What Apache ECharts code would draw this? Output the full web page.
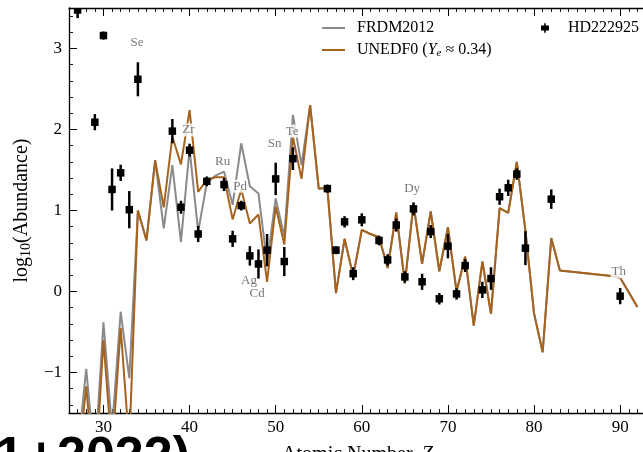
<!DOCTYPE html>
<html>
<head>
<meta charset="utf-8">
<script src="https://cdn.jsdelivr.net/npm/echarts@6/dist/echarts.min.js"></script>
<style>
  html, body { margin: 0; padding: 0; background: #fff; }
  #chart { width: 643px; height: 452px; }
</style>
</head>
<body>
<div id="chart"></div>
<script>
// Model predictions: log10 abundance per atomic number
const modelZ = [27, 28, 29, 30, 31, 32, 33, 34, 35, 36, 37, 38, 39, 40, 41, 42, 43, 44, 45, 46,
  47, 48, 49, 50, 51, 52, 53, 54, 55, 56, 57, 58, 59, 60, 61, 62, 63, 64, 65, 66,
  67, 68, 69, 70, 71, 72, 73, 74, 75, 76, 77, 78, 79, 80, 81, 82, 83, 89, 90, 91, 92];

const frdm2012 = [-2.0, -0.955, -2.1, -0.38, -1.7, -0.25, -1.07, 1.0, 0.63, 1.62, 0.78, 1.56, 0.61, 1.76, 0.74, 1.34, 1.43, 1.48, 1.07, 1.83,
  1.30, 1.21, 0.35, 1.15, 0.68, 2.18, 1.56, 2.30, 1.27, 1.28, -0.02, 0.65, 0.19, 0.76, 0.71, 0.67, 0.29, 0.975, 0.10, 1.08,
  0.34, 0.99, 0.25, 0.795, 0.0, 0.43, -0.42, 0.37, -0.275, 1.03, 0.97, 1.60, 0.75, -0.27, -0.75, 0.66, 0.26, 0.19, 0.17, -0.01, -0.19];

const unedf0 = [-2.2, -1.17, -2.4, -0.6, -2.0, -0.45, -1.9, 1.0, 0.63, 1.62, 1.04, 1.91, 1.57, 2.24, 1.23, 1.38, 1.41, 1.41, 0.89, 1.26,
  0.84, 0.95, 0.12, 1.05, 0.58, 1.91, 1.39, 2.30, 1.27, 1.28, -0.02, 0.65, 0.19, 0.76, 0.71, 0.67, 0.29, 0.975, 0.10, 1.08,
  0.34, 0.99, 0.25, 0.795, 0.0, 0.43, -0.42, 0.37, -0.275, 1.03, 0.97, 1.60, 0.75, -0.27, -0.75, 0.66, 0.26, 0.19, 0.17, -0.01, -0.19];

// Observed abundances of HD222925 with 1-sigma uncertainties
const starZ = [27, 29, 30, 31, 32, 33, 34, 38, 39, 40, 41, 42, 44, 45, 46, 47, 48, 49, 50, 51, 52,
  56, 57, 58, 59, 60, 62, 63, 64, 65, 66, 67, 68, 69, 70, 71, 72, 74, 75, 76, 77, 78, 79, 82, 90];
const starLogAbund = [3.475, 2.09, 3.16, 1.26, 1.465, 1.01, 2.62, 1.98, 1.04, 1.745, 0.71, 1.36, 1.32, 0.65, 1.06, 0.44, 0.34, 0.51, 1.39, 0.37, 1.64,
  1.27, 0.51, 0.86, 0.22, 0.885, 0.63, 0.39, 0.82, 0.18, 1.02, 0.12, 0.74, -0.09, 0.56, -0.03, 0.32, 0.02, 0.16, 1.17, 1.28, 1.45, 0.535, 1.14, -0.057];
const starErr = [0.1, 0.1, 0.05, 0.26, 0.1, 0.23, 0.21, 0.15, 0.08, 0.08, 0.1, 0.06, 0.08, 0.1, 0.06, 0.12, 0.18, 0.2, 0.2, 0.18, 0.14,
  0.05, 0.05, 0.07, 0.08, 0.08, 0.06, 0.07, 0.08, 0.07, 0.08, 0.1, 0.08, 0.07, 0.15, 0.07, 0.08, 0.1, 0.14, 0.1, 0.1, 0.07, 0.21, 0.12, 0.1];

// Element annotations (data coordinates)
const elemNames = ['Se', 'Zr', 'Ru', 'Pd', 'Ag', 'Cd', 'Sn', 'Te', 'Dy', 'Th'];
const elemLabelZ = [33.9, 39.86, 43.83, 45.86, 46.9, 47.84, 49.87, 51.9, 65.84, 89.84];
const elemLabelY = [3.077, 1.995, 1.61, 1.30, 0.13, -0.03, 1.83, 1.98, 1.27, 0.243];

const SERIF = '"Liberation Serif", "DejaVu Serif", serif';
const GRAY = '#8a8a8a';
const ORANGE = '#a6631d';
const BIG_FONT = 'bold 52px "Liberation Sans", Arial, sans-serif';

const zip = (xs, ys) => xs.map((x, i) => [x, ys[i]]);

const chart = echarts.init(document.getElementById('chart'), null, { renderer: 'canvas' });

const tickCommon = {
  axisLine: { show: true, onZero: false, lineStyle: { color: '#000', width: 1.3 } },
  axisTick: { show: true, inside: true, length: 8, lineStyle: { color: '#000', width: 1 } },
  minorTick: { show: true, length: 4, lineStyle: { color: '#000', width: 0.9 } },
  splitLine: { show: false },
  minorSplitLine: { show: false }
};

chart.setOption({
  animation: false,
  backgroundColor: '#fff',
  grid: { left: 69, top: 8, width: 577, height: 405, containLabel: false, outerBoundsMode: 'none' },
  xAxis: [
    Object.assign({}, tickCommon, {
      type: 'value', min: 26, max: 93, splitNumber: 7, position: 'bottom',
      minorTick: Object.assign({}, tickCommon.minorTick, { splitNumber: 10 }),
      axisLabel: { show: true, showMinLabel: false, showMaxLabel: false, margin: 6,
        fontFamily: SERIF, fontSize: 17, color: '#000' },
      name: 'Atomic Number, {i|Z}', nameLocation: 'middle', nameGap: 32,
      nameTextStyle: { fontFamily: SERIF, fontSize: 20, color: '#000',
        rich: { i: { fontStyle: 'italic', fontFamily: SERIF, fontSize: 20, color: '#000' } } }
    }),
    Object.assign({}, tickCommon, {
      type: 'value', min: 26, max: 93, splitNumber: 7, position: 'top',
      minorTick: Object.assign({}, tickCommon.minorTick, { splitNumber: 10 }),
      axisLabel: { show: false }
    })
  ],
  yAxis: [
    Object.assign({}, tickCommon, {
      type: 'value', min: -1.5, max: 3.5, splitNumber: 5, position: 'left',
      minorTick: Object.assign({}, tickCommon.minorTick, { splitNumber: 5 }),
      axisLabel: { show: true, showMinLabel: false, showMaxLabel: false, margin: 7,
        fontFamily: SERIF, fontSize: 17, color: '#000',
        formatter: v => (v < 0 ? '\u2212' + Math.abs(v) : String(v)) },
      name: 'log{sub|10}(Abundance)', nameLocation: 'middle', nameRotate: 90, nameGap: 30,
      nameTextStyle: { fontFamily: SERIF, fontSize: 20, color: '#000',
        rich: { sub: { fontFamily: SERIF, fontSize: 14, color: '#000', verticalAlign: 'bottom', padding: [8, 0, 0, 0] } } }
    })
  ],
  legend: [
    {
      data: [{ name: 'FRDM2012', icon: 'rect' }, { name: 'UNEDF0', icon: 'rect' }],
      orient: 'vertical', left: 322, top: 19, padding: 0, itemWidth: 23, itemHeight: 2, itemGap: 4,
      selectedMode: false,
      formatter: name => (name === 'UNEDF0' ? 'UNEDF0 ({i|Y}{s|e} \u2248 0.34)' : name),
      textStyle: { fontFamily: SERIF, fontSize: 16, color: '#000', lineHeight: 18, padding: [0, 0, 0, 7],
        rich: {
          i: { fontFamily: SERIF, fontSize: 16, fontStyle: 'italic', color: '#000' },
          s: { fontFamily: SERIF, fontSize: 11, fontStyle: 'italic', color: '#000', padding: [6, 0, 0, 0] }
        } }
    },
    {
      data: [{ name: 'HD222925', icon: 'path://M4,0 L6,0 L6,3 L10,3 L10,9 L6,9 L6,12 L4,12 L4,9 L0,9 L0,3 L4,3 Z' }],
      orient: 'vertical', left: 541, top: 19, padding: 0, itemWidth: 8, itemHeight: 13,
      selectedMode: false,
      textStyle: { fontFamily: SERIF, fontSize: 16, color: '#000', lineHeight: 18, padding: [0, 0, 0, 14] }
    }
  ],
  series: [
    {
      name: 'FRDM2012', type: 'line', data: zip(modelZ, frdm2012),
      showSymbol: false, symbol: 'none', clip: true, z: 2,
      itemStyle: { color: GRAY },
      lineStyle: { color: GRAY, width: 2 }
    },
    {
      name: 'UNEDF0', type: 'line', data: zip(modelZ, unedf0),
      showSymbol: false, symbol: 'none', clip: true, z: 3,
      itemStyle: { color: ORANGE },
      lineStyle: { color: ORANGE, width: 2 }
    },
    {
      name: 'elements', type: 'scatter', z: 4, silent: true,
      data: elemNames.map((n, i) => ({ name: n, value: [elemLabelZ[i], elemLabelY[i]] })),
      symbolSize: 0,
      label: { show: true, position: 'inside', formatter: '{b}', fontFamily: SERIF, fontSize: 13,
        color: '#555', backgroundColor: '#fff', padding: [0, 1] }
    },
    {
      name: 'HD222925', type: 'custom', z: 5, clip: true,
      itemStyle: { color: '#000' },
      encode: { x: 0, y: 1 },
      data: starZ.map((z, i) => [z, starLogAbund[i], starErr[i]]),
      renderItem: function (params, api) {
        const z = api.value(0), v = api.value(1), e = api.value(2);
        const c = api.coord([z, v]);
        const hi = api.coord([z, v + e]);
        const lo = api.coord([z, v - e]);
        const s = 7.5;
        return {
          type: 'group',
          children: [
            { type: 'line', shape: { x1: c[0], y1: hi[1], x2: c[0], y2: lo[1] },
              style: { stroke: '#000', lineWidth: 2.5 } },
            { type: 'rect', shape: { x: c[0] - s / 2, y: c[1] - s / 2, width: s, height: s },
              style: { fill: '#000' } }
          ]
        };
      }
    }
  ],
  graphic: [
    { type: 'text', left: -5, top: 433, z: 10, style: { text: '1', font: BIG_FONT, fill: '#000' } },
    { type: 'text', left: 26, top: 433, z: 10, style: { text: '+', font: BIG_FONT, fill: '#000' } },
    { type: 'text', left: 57, top: 433, z: 10, style: { text: '2022)', font: BIG_FONT, fill: '#000' } }
  ]
});
</script>
</body>
</html>
